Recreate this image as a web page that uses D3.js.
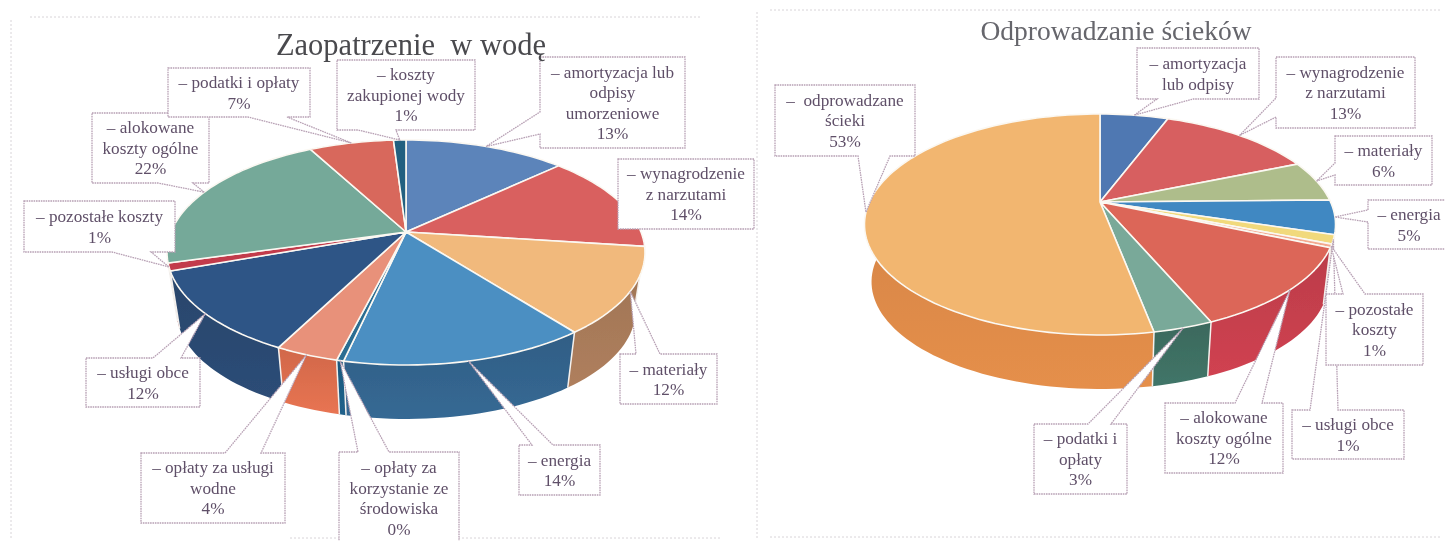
<!DOCTYPE html>
<html>
<head>
<meta charset="utf-8">
<script src="https://cdn.jsdelivr.net/npm/d3@7"></script>
<style>
  html, body { margin: 0; padding: 0; background: #fff; }
  svg { display: block; }
  text { font-family: "Liberation Serif", serif; }
</style>
</head>
<body>
<svg id="chart" width="1445" height="541"></svg>
<script>
// water supply pie
var waterTitle = "Zaopatrzenie  w wodę";
var waterLabels = [
    ["– amortyzacja lub", "odpisy", "umorzeniowe"],
    ["– wynagrodzenie", "z narzutami"],
    ["– materiały"],
    ["– energia"],
    ["– opłaty za", "korzystanie ze", "środowiska"],
    ["– opłaty za usługi", "wodne"],
    ["– usługi obce"],
    ["– pozostałe koszty"],
    ["– alokowane", "koszty ogólne"],
    ["– podatki i opłaty"],
    ["– koszty", "zakupionej wody"]
];
var waterValues = [13, 14, 12.4, 14, 0.4, 3.6, 12, 1.1, 21.5, 6.8, 1];
var waterShowPct = [1, 1, 1, 1, 1, 1, 1, 1, 1, 1, 1];
var waterTop = ["#5c84ba", "#d9605f", "#f1b97c", "#4b8fc2", "#2a6d92", "#e8917a", "#2f5486", "#c23a4c", "#75a999", "#d8675b", "#246080"];
var waterSide = ["#3f5f8c", "#a8403f", "#a97b5a", "#34658f", "#1f5f86", "#e0704f", "#2b4a73", "#8f2c3a", "#4f7f70", "#a84a40", "#1c4c68"];

// sewage pie
var sewageTitle = "Odprowadzanie ścieków";
var sewageLabels = [
    ["– amortyzacja", "lub odpisy"],
    ["– wynagrodzenie", "z narzutami"],
    ["– materiały"],
    ["– energia"],
    ["– usługi obce"],
    ["– pozostałe", "koszty"],
    ["– alokowane", "koszty ogólne"],
    ["– podatki i", "opłaty"],
    ["–  odprowadzane", "ścieki"]
];
var sewageValues = [5.7, 13, 6, 5, 1.3, 0.5, 12.1, 3.4, 53];
var sewageShowPct = [0, 1, 1, 1, 1, 1, 1, 1, 1];
var sewageTop = ["#4f78b2", "#d75f60", "#aebd8b", "#3f88c2", "#f1d97c", "#f3a98f", "#dc6658", "#79a999", "#f2b670"];
var sewageSide = ["#3c5a88", "#a8404a", "#85936a", "#2f6a98", "#c0a850", "#d88a70", "#c9404e", "#3f7164", "#dd8a48"];

// callout boxes, in the same order as the slices
var waterBoxes = [
    {x: 540, y: 57, w: 145, h: 91, tail: ["left", 112, 134]},
    {x: 618, y: 159, w: 136, h: 70},
    {x: 620, y: 354, w: 97, h: 50, tail: ["top", 636, 660]},
    {x: 519, y: 445, w: 81, h: 50, tail: ["top", 532, 553]},
    {x: 339, y: 452, w: 120, h: 92, tail: ["top", 358, 389]},
    {x: 141, y: 453, w: 144, h: 70, tail: ["top", 225, 261]},
    {x: 86, y: 358, w: 114, h: 49, tail: ["top", 153, 181]},
    {x: 24, y: 201, w: 151, h: 51, tail: ["bottom", 112, 151]},
    {x: 92, y: 113, w: 117, h: 70, tail: ["bottom", 158, 193]},
    {x: 168, y: 68, w: 142, h: 49, tail: ["bottom", 248, 287]},
    {x: 337, y: 60, w: 138, h: 70, tail: ["bottom", 358, 396]}
];
var sewageBoxes = [
    {x: 1137, y: 48, w: 122, h: 51, tail: ["bottom", 1157, 1193]},
    {x: 1276, y: 57, w: 139, h: 71, tail: ["left", 98, 117]},
    {x: 1335, y: 136, w: 97, h: 49, tail: ["left", 163, 175]},
    {x: 1368, y: 200, w: 82, h: 49, tail: ["left", 210, 222]},
    {x: 1292, y: 410, w: 112, h: 49, tail: ["top", 1310, 1338]},
    {x: 1326, y: 294, w: 97, h: 71, tail: ["top", 1343, 1365]},
    {x: 1165, y: 403, w: 118, h: 70, tail: ["top", 1235, 1262]},
    {x: 1034, y: 424, w: 93, h: 70, tail: ["top", 1088, 1111]},
    {x: 775, y: 85, w: 140, h: 71, tail: ["bottom", 858, 890]}
];

var svg = d3.select("#chart");
var defs = svg.append("defs");
defs.append("filter").attr("id", "scan")
    .append("feGaussianBlur").attr("stdDeviation", 0.4);

var page = svg.append("g").attr("filter", "url(#scan)");
var pct = d3.format(".0f");

// faint frame left over from the scan
var frames = [[11, 20, 11, 540], [30, 17, 700, 17], [757, 12, 757, 540], [770, 10, 1440, 10], [770, 537, 1440, 537], [290, 538, 720, 538]];
page.selectAll("line.frame")
    .data(frames)
    .enter().append("line")
    .attr("class", "frame")
    .attr("x1", function(d){ return d[0]; })
    .attr("y1", function(d){ return d[1]; })
    .attr("x2", function(d){ return d[2]; })
    .attr("y2", function(d){ return d[3]; })
    .attr("stroke", "#d8d4d8")
    .attr("stroke-dasharray", "2 2");

function drawPie(opt){
    var id = opt.id;
    // pie seen in perspective: k is the foreshortening
    var project = function(angle, s, dy){
        var X = Math.sin(angle), Y = -Math.cos(angle);
        var w = 1 - opt.k * Y;
        return [
            opt.cx + s * opt.b * X / w,
            opt.cy + dy + s * opt.a * Y / w
        ];
    };
    var rim = function(d, s, dy){
        var n = Math.max(2, Math.ceil((d.endAngle - d.startAngle) * 30));
        return d3.range(n + 1).map(function(i){
            return project(d.startAngle + (d.endAngle - d.startAngle) * i / n, s, dy);
        });
    };
    var line = d3.line();
    var arcs = d3.pie().sort(null)(opt.values);
    var g = page.append("g");

    // gradients for the walls
    opt.side.forEach(function(c, i){
        var grad = defs.append("linearGradient").attr("id", id + "side" + i)
            .attr("x1", 0).attr("y1", 0).attr("x2", 0).attr("y2", 1);
        grad.append("stop").attr("offset", "0%").attr("stop-color", d3.color(c).darker(0.2));
        grad.append("stop").attr("offset", "100%").attr("stop-color", d3.color(c).brighter(0.1));
    });

    // walls, far ones first, the top faces cover them anyway
    var order = arcs.slice().sort(function(a, b){
        return project((a.startAngle + a.endAngle) / 2, 1, 0)[1] - project((b.startAngle + b.endAngle) / 2, 1, 0)[1];
    });
    g.selectAll("path.wall")
        .data(order)
        .enter().append("path")
        .attr("class", "wall")
        .attr("d", function(d){
            return line(rim(d, 1, 0).concat(rim(d, opt.s, opt.dy).reverse())) + "Z";
        })
        .attr("fill", function(d){ return "url(#" + id + "side" + d.index + ")"; });

    // white seams between the walls
    g.selectAll("line.seam")
        .data(arcs)
        .enter().append("line")
        .attr("class", "seam")
        .attr("x1", function(d){ return project(d.startAngle, 1, 0)[0]; })
        .attr("y1", function(d){ return project(d.startAngle, 1, 0)[1]; })
        .attr("x2", function(d){ return project(d.startAngle, opt.s, opt.dy)[0]; })
        .attr("y2", function(d){ return project(d.startAngle, opt.s, opt.dy)[1]; })
        .attr("stroke", "#f4f1ee")
        .attr("stroke-width", 1.5);

    // top faces
    g.selectAll("path.face")
        .data(arcs)
        .enter().append("path")
        .attr("class", "face")
        .attr("d", function(d){
            return line([[opt.cx, opt.cy]].concat(rim(d, 1, 0))) + "Z";
        })
        .attr("fill", function(d){ return opt.top[d.index]; })
        .attr("stroke", "#fbf8f2")
        .attr("stroke-width", 1.6)
        .attr("stroke-linejoin", "round");

    // callouts
    arcs.forEach(function(d, i){
        var box = opt.boxes[i];
        var tip = project((d.startAngle + d.endAngle) / 2, 1, 0);
        var x0 = box.x, y0 = box.y, x1 = box.x + box.w, y1 = box.y + box.h;
        var t = box.tail || [];
        var pts = [[x0, y0]];
        if(t[0] === "top"){ pts.push([t[1], y0], tip, [t[2], y0]); }
        pts.push([x1, y0], [x1, y1]);
        if(t[0] === "bottom"){ pts.push([t[2], y1], tip, [t[1], y1]); }
        pts.push([x0, y1]);
        if(t[0] === "left"){ pts.push([x0, t[2]], tip, [x0, t[1]]); }

        g.append("path")
            .attr("d", line(pts) + "Z")
            .attr("fill", "#fff")
            .attr("stroke", "#b7a0b4")
            .attr("stroke-width", 1.3)
            .attr("stroke-dasharray", "1.6 0.8");

        var lines = opt.labels[i].slice();
        if(opt.showPct[i]){
            lines.push(pct(Math.round(d.value)) + "%");
        }
        var lh = 20.5;
        var top = box.y + box.h / 2 - lh * lines.length / 2 + 16;
        g.append("text")
            .attr("text-anchor", "middle")
            .attr("font-size", "17.2px")
            .attr("fill", "#5f4f68")
            .selectAll("tspan")
            .data(lines)
            .enter().append("tspan")
            .attr("x", box.x + box.w / 2)
            .attr("y", function(l, j){ return top + j * lh; })
            .style("white-space", "pre")
            .text(function(l){ return l; });
    });

    page.append("text")
        .attr("x", opt.titleX)
        .attr("y", opt.titleY)
        .attr("text-anchor", "middle")
        .attr("font-size", opt.titleSize)
        .attr("fill", opt.titleColor)
        .style("white-space", "pre")
        .text(opt.title);
}

drawPie({
    id: "water", title: waterTitle, labels: waterLabels, values: waterValues, showPct: waterShowPct,
    top: waterTop, side: waterSide, boxes: waterBoxes,
    cx: 406, cy: 232, a: 108.8, b: 235, k: 0.182, s: 0.96, dy: 59.3,
    titleX: 411, titleY: 55, titleSize: "30.5px", titleColor: "#4a4a4e"
});
drawPie({
    id: "sewage", title: sewageTitle, labels: sewageLabels, values: sewageValues, showPct: sewageShowPct,
    top: sewageTop, side: sewageSide, boxes: sewageBoxes,
    cx: 1100, cy: 202, a: 105.9, b: 230.6, k: 0.2036, s: 0.97, dy: 58,
    titleX: 1116, titleY: 40, titleSize: "27.5px", titleColor: "#66666c"
});
</script>
</body>
</html>
